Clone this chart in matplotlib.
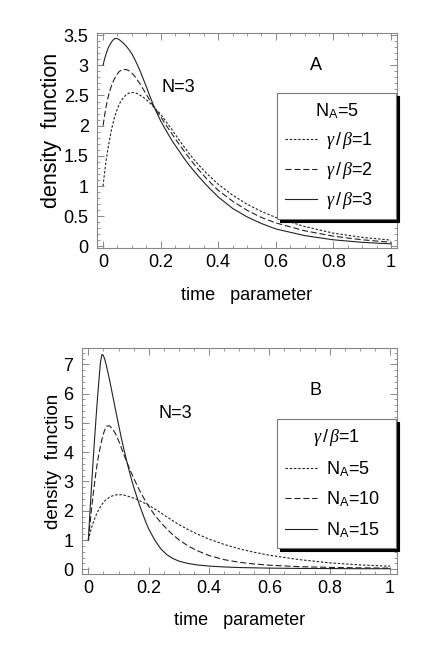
import numpy as np
import matplotlib
matplotlib.use("Agg")
import matplotlib.pyplot as plt
from matplotlib.ticker import MultipleLocator

plt.rcParams['font.family'] = ['Liberation Sans', 'DejaVu Sans']
plt.rcParams['mathtext.fontset'] = 'custom'
plt.rcParams['mathtext.rm'] = 'Liberation Sans'
plt.rcParams['mathtext.it'] = 'Liberation Serif:italic'

# time grid
t = [0, 0.005, 0.01, 0.015, 0.02, 0.025, 0.03, 0.035, 0.04, 0.045, 0.05, 0.055, 0.06,
     0.07, 0.08, 0.09, 0.10, 0.11, 0.12, 0.13, 0.14, 0.15, 0.16, 0.17, 0.18, 0.19, 0.20,
     0.22, 0.24, 0.26, 0.28, 0.30, 0.33, 0.36, 0.40, 0.45, 0.50, 0.55, 0.60, 0.70, 0.80,
     0.90, 1.0]

# panel A, N_A=5
g1 = [1.00, 1.21, 1.40, 1.56, 1.70, 1.83, 1.95, 2.05, 2.14, 2.22, 2.28, 2.34, 2.39,
      2.46, 2.51, 2.54, 2.55, 2.545, 2.53, 2.50, 2.47, 2.43, 2.39, 2.34, 2.29, 2.24, 2.19,
      2.06, 1.93, 1.79, 1.66, 1.53, 1.36, 1.21, 1.03, 0.85, 0.70, 0.58, 0.48, 0.33, 0.22,
      0.15, 0.105]
g2 = [2.00, 2.16, 2.30, 2.42, 2.52, 2.60, 2.67, 2.73, 2.78, 2.82, 2.86, 2.89, 2.91,
      2.93, 2.93, 2.91, 2.87, 2.82, 2.75, 2.68, 2.60, 2.52, 2.44, 2.36, 2.29, 2.22, 2.15,
      2.00, 1.86, 1.72, 1.59, 1.46, 1.28, 1.12, 0.93, 0.75, 0.60, 0.48, 0.39, 0.26, 0.17,
      0.11, 0.07]
g3 = [3.00, 3.10, 3.18, 3.25, 3.31, 3.35, 3.39, 3.42, 3.44, 3.445, 3.44, 3.43, 3.41,
      3.37, 3.32, 3.26, 3.19, 3.10, 3.00, 2.89, 2.77, 2.65, 2.52, 2.40, 2.28, 2.18, 2.08,
      1.91, 1.75, 1.61, 1.47, 1.34, 1.17, 1.01, 0.82, 0.63, 0.49, 0.38, 0.29, 0.18, 0.11,
      0.068, 0.043]

# panel B, gamma/beta=1 (N_A=5 is the same curve as g1)
na5 = g1
na10 = [1.00, 1.52, 2.00, 2.47, 2.90, 3.30, 3.65, 3.95, 4.20, 4.44, 4.63, 4.78, 4.89,
        4.90, 4.80, 4.63, 4.40, 4.13, 3.86, 3.60, 3.35, 3.12, 2.90, 2.69, 2.50, 2.32, 2.15,
        1.85, 1.60, 1.38, 1.18, 1.01, 0.80, 0.64, 0.47, 0.33, 0.24, 0.18, 0.14, 0.09, 0.065,
        0.05, 0.04]
na15 = [1.00, 1.90, 2.75, 3.58, 4.35, 5.10, 5.80, 6.45, 7.05, 7.34, 7.30, 7.15, 6.95,
        6.48, 5.97, 5.45, 4.95, 4.45, 4.00, 3.58, 3.18, 2.82, 2.50, 2.18, 1.90, 1.62, 1.38,
        1.00, 0.70, 0.50, 0.37, 0.28, 0.20, 0.15, 0.11, 0.08, 0.06, 0.05, 0.04, 0.03, 0.025,
        0.02, 0.02]

xticks = [0, 0.2, 0.4, 0.6, 0.8, 1]
xlabels = ['0', '0.2', '0.4', '0.6', '0.8', '1']
yticksA = [0, 0.5, 1, 1.5, 2, 2.5, 3, 3.5]
ylabelsA = ['0', '0.5', '1', '1.5', '2', '2.5', '3', '3.5']
yticksB = [0, 1, 2, 3, 4, 5, 6, 7]
ylabelsB = ['0', '1', '2', '3', '4', '5', '6', '7']

dot = (0, (2.2, 1.6))
dash = (0, (5.5, 2.5))
lc = '#222222'
fs = 13

fig = plt.figure(figsize=(4.36, 6.54), dpi=100)
axA = fig.add_axes([0.2225, 0.6204, 0.688, 0.3287])
axB = fig.add_axes([0.1874, 0.1219, 0.7239, 0.3456])


def style(ax, yt, yl, ymin, ymax, yminor, xmin, xmax, ylfs):
    ax.set_xlim(xmin, xmax)
    ax.set_ylim(ymin, ymax)
    ax.set_xticks(xticks)
    ax.set_xticklabels(xlabels)
    ax.set_yticks(yt)
    ax.set_yticklabels(yl)
    ax.xaxis.set_minor_locator(MultipleLocator(0.05))
    ax.yaxis.set_minor_locator(MultipleLocator(yminor))
    ax.tick_params(which='both', direction='in', top=True, right=True,
                   color='#888888', labelsize=fs)
    ax.tick_params(which='major', length=5, width=0.7)
    ax.tick_params(which='minor', length=2.5, width=0.6)
    ax.tick_params(axis='x', pad=4)
    ax.tick_params(axis='y', pad=6)
    for s in ax.spines.values():
        s.set_color('#888888')
        s.set_linewidth(0.8)
    ax.set_xlabel('time   parameter', fontsize=fs)
    ax.set_ylabel('density  function', fontsize=ylfs)


def legend(ax, title, x0, top, w, spacing):
    leg = ax.legend(title=title, loc='upper left', bbox_to_anchor=(x0, 0, w, top),
                    mode='expand', fontsize=fs, title_fontsize=fs, fancybox=False,
                    framealpha=1, edgecolor='#777777',
                    shadow={'color': 'black', 'alpha': 1},
                    handlelength=1.75, handletextpad=0.5, labelspacing=spacing,
                    borderpad=0.45, borderaxespad=0)
    leg.get_frame().set_linewidth(0.8)
    return leg


# panel A
axA.plot(t, g1, linestyle=dot, color=lc, lw=0.8, label=r'$\gamma\,/\,\beta$=1')
axA.plot(t, g2, linestyle=dash, color=lc, lw=0.8, label=r'$\gamma\,/\,\beta$=2')
axA.plot(t, g3, linestyle='-', color=lc, lw=0.8, label=r'$\gamma\,/\,\beta$=3')
style(axA, yticksA, ylabelsA, -0.03, 3.53, 0.1, -0.021, 1.021, 15.5)
axA.xaxis.set_label_coords(0.5, -0.18)
axA.yaxis.set_label_coords(-0.117, 0.55)
axA.text(0.73, 0.85, 'A', transform=axA.transAxes, fontsize=fs, ha='center', va='center')
axA.text(0.27, 0.75, 'N=3', transform=axA.transAxes, fontsize=fs, ha='center', va='center')
legend(axA, r'N$_{\rm A}$=5', 0.60, 0.722, 0.397, 0.5)

# panel B
axB.plot(t, na5, linestyle=dot, color=lc, lw=0.8, label=r'N$_{\rm A}$=5')
axB.plot(t, na10, linestyle=dash, color=lc, lw=0.8, label=r'N$_{\rm A}$=10')
axB.plot(t, na15, linestyle='-', color=lc, lw=0.8, label=r'N$_{\rm A}$=15')
style(axB, yticksB, ylabelsB, -0.17, 7.55, 0.2, -0.022, 1.024, 13.5)
axB.xaxis.set_label_coords(0.5, -0.165)
axB.yaxis.set_label_coords(-0.062, 0.5)
axB.text(0.74, 0.815, 'B', transform=axB.transAxes, fontsize=fs, ha='center', va='center')
axB.text(0.295, 0.71, 'N=3', transform=axB.transAxes, fontsize=fs, ha='center', va='center')
legend(axB, r'$\gamma\,/\,\beta$=1', 0.619, 0.687, 0.377, 0.6)

fig.savefig('out.png', dpi=100)
